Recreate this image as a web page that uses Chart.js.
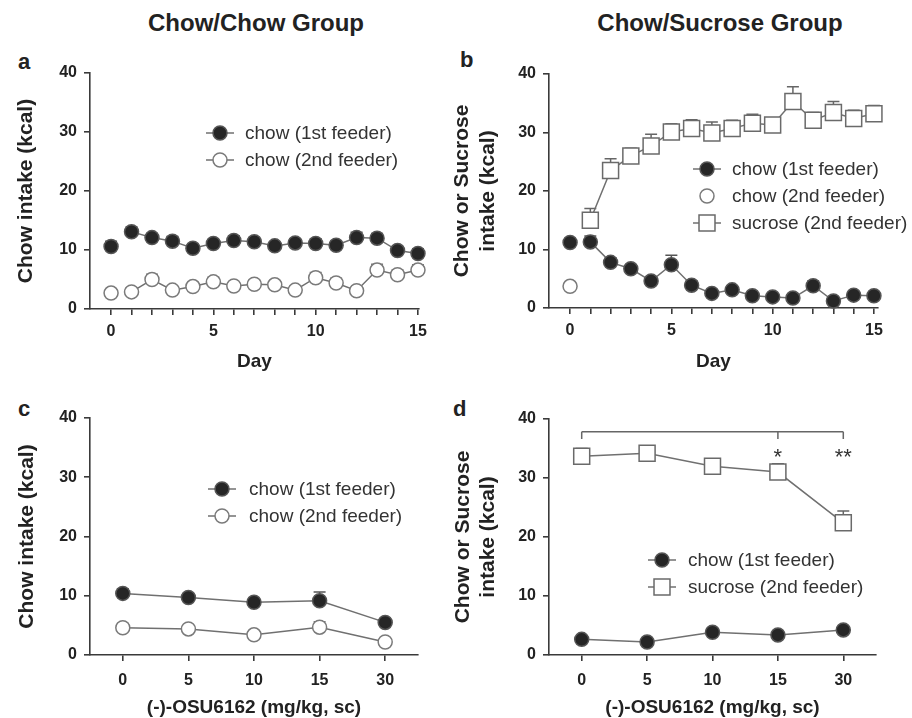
<!DOCTYPE html>
<html><head><meta charset="utf-8">
<script src="https://cdn.jsdelivr.net/npm/chart.js@4.4.1/dist/chart.umd.min.js"></script>
<style>
html,body{margin:0;padding:0;background:#fff;}
body{width:912px;height:718px;overflow:hidden;position:relative;font-family:'Liberation Sans',Arial,sans-serif;color:#222;}
.gt{position:absolute;top:11px;width:400px;text-align:center;font-weight:bold;font-size:24px;line-height:24px;}
.pl{position:absolute;font-weight:bold;font-size:22px;line-height:22px;}
canvas{position:absolute;}
</style></head><body>
<div class="gt" style="left:56px">Chow/Chow Group</div>
<div class="gt" style="left:520px">Chow/Sucrose Group</div>
<div class="pl" style="left:18px;top:51px">a</div>
<div class="pl" style="left:460px;top:49px">b</div>
<div class="pl" style="left:18px;top:398px">c</div>
<div class="pl" style="left:453px;top:398px">d</div>
<canvas id="ca" width="450" height="340" style="left:0;top:40px;width:450px;height:340px"></canvas>
<canvas id="cb" width="462" height="340" style="left:450px;top:40px;width:462px;height:340px"></canvas>
<canvas id="cc" width="450" height="340" style="left:0;top:380px;width:450px;height:340px"></canvas>
<canvas id="cd" width="462" height="340" style="left:450px;top:380px;width:462px;height:340px"></canvas>
<script>
// ---------- data ----------
const days = [0,1,2,3,4,5,6,7,8,9,10,11,12,13,14,15];
const dayTickLabels = [0,5,10,15];
const yTicks = [0,10,20,30,40];

// panel a (Chow/Chow group, days)
const chowA1 = [10.6,13.1,12.1,11.5,10.3,11.1,11.6,11.4,10.7,11.2,11.1,10.8,12.1,12.0,9.9,9.4];
const errA1  = [0.9,0.8,0.7,0.8,0.6,0.7,0.8,0.7,0.6,0.7,0.8,0.7,0.9,0.8,0.7,0.8];
const chowA2 = [2.7,2.9,5.0,3.2,3.8,4.6,3.9,4.2,4.1,3.2,5.3,4.4,3.1,6.6,5.8,6.6];
const errA2  = [0.6,0.7,0.9,0.6,0.7,0.8,0.6,0.7,0.6,0.7,0.9,0.8,0.6,1.0,0.8,0.9];

// panel b (Chow/Sucrose group, days)
const chowB1   = [11.2,11.3,7.8,6.7,4.6,7.4,3.9,2.5,3.1,2.1,1.9,1.7,3.8,1.2,2.2,2.1];
const errB1    = [0.7,1.0,0.8,0.7,0.6,1.6,0.7,0.5,0.6,0.4,0.4,0.4,0.8,0.5,0.4,0.4];
const chowB2   = [3.7,null,null,null,null,null,null,null,null,null,null,null,null,null,null,null];
const sucroseB = [null,15.0,23.5,26.0,27.7,30.1,30.7,29.9,30.7,31.6,31.3,35.3,32.1,33.4,32.4,33.2];
const errSucB  = [null,2.0,2.0,1.3,2.0,1.4,1.5,1.9,1.4,1.5,1.2,2.5,1.3,1.9,1.4,1.4];

// panels c, d (dose)
const doses = ['0','5','10','15','30'];
const chowC1 = [10.4,9.7,8.9,9.15,5.5];
const errC1  = [0.8,0.7,0.6,1.5,0.6];
const chowC2 = [4.6,4.4,3.4,4.7,2.2];
const errC2  = [0.7,0.6,0.6,0.9,0.5];
const chowD1   = [2.65,2.2,3.85,3.4,4.25];
const errD1    = [0.5,0.5,0.6,0.6,0.6];
const sucroseD = [33.7,34.2,32.0,31.0,22.4];
const errSucD  = [1.3,1.1,1.0,1.4,2.0];
const sigStars = ['','','','*','**'];
const sigBracketAt = [0,3,4];

// ---------- styles ----------
Chart.defaults.font.family = "'Liberation Sans', Arial, sans-serif";
Chart.defaults.color = '#222';
const axisColor = '#3a3a3a';
const lineColor = '#707070';
const tickFont = {size: 16, weight: 'bold'};
const filled = {pointStyle:'circle', pointRadius:7, pointBackgroundColor:'#262626', pointBorderColor:'#555', pointBorderWidth:1.5, borderColor:lineColor, borderWidth:1.5, errorColor:'#555'};
const openC  = {pointStyle:'circle', pointRadius:7, pointBackgroundColor:'#fff', pointBorderColor:'#7a7a7a', pointBorderWidth:1.5, borderColor:lineColor, borderWidth:1.5, errorColor:'#777'};
const openS  = {pointStyle:'rect', pointRadius:11.3, pointBackgroundColor:'#fff', pointBorderColor:'#6a6a6a', pointBorderWidth:1.5, borderColor:lineColor, borderWidth:1.5, errorColor:'#666'};

// ---------- plugins ----------
const errorBars = {
  id: 'errorBars',
  beforeDatasetsDraw(chart) {
    const ctx = chart.ctx;
    chart.data.datasets.forEach((ds, i) => {
      if (!ds.errors) return;
      const meta = chart.getDatasetMeta(i);
      const ys = chart.scales[meta.yAxisID];
      meta.data.forEach((pt, j) => {
        const e = ds.errors[j];
        const raw = ds.data[j];
        const v = (raw && typeof raw === 'object') ? raw.y : raw;
        if (pt.skip || v == null || !e) return;
        const y1 = ys.getPixelForValue(v + e);
        ctx.save();
        ctx.strokeStyle = ds.errorColor; ctx.lineWidth = 1.5;
        ctx.beginPath();
        ctx.moveTo(pt.x, pt.y); ctx.lineTo(pt.x, y1);
        ctx.moveTo(pt.x - 6, y1); ctx.lineTo(pt.x + 6, y1);
        ctx.stroke();
        ctx.restore();
      });
    });
  }
};

const boxLegend = {
  id: 'boxLegend',
  afterDraw(chart, args, o) {
    const ctx = chart.ctx;
    chart.data.datasets.forEach((ds, i) => {
      const y = o.y + i * o.gap;
      ctx.save();
      if (ds.showLine !== false) {
        ctx.strokeStyle = ds.borderColor; ctx.lineWidth = ds.borderWidth;
        ctx.beginPath(); ctx.moveTo(o.x - 14, y); ctx.lineTo(o.x + 14, y); ctx.stroke();
      }
      ctx.fillStyle = ds.pointBackgroundColor;
      ctx.strokeStyle = ds.pointBorderColor;
      ctx.lineWidth = ds.pointBorderWidth;
      Chart.helpers.drawPoint(ctx, {pointStyle: ds.pointStyle, rotation: 0, radius: ds.pointRadius, borderWidth: ds.pointBorderWidth}, o.x, y);
      ctx.fillStyle = '#333';
      ctx.font = "19px 'Liberation Sans', Arial, sans-serif";
      ctx.textBaseline = 'middle'; ctx.textAlign = 'left';
      ctx.fillText(ds.label, o.textX, y + 1);
      ctx.restore();
    });
  }
};

const sigMarks = {
  id: 'sigMarks',
  afterDatasetsDraw(chart, args, o) {
    if (!o || o.level == null) return;
    const ctx = chart.ctx, xs = chart.scales.x, ys = chart.scales.y;
    const yTop = ys.getPixelForValue(o.level), yBot = ys.getPixelForValue(o.level - o.drop);
    const px = o.at.map(k => xs.getPixelForValue(k));
    ctx.save();
    ctx.strokeStyle = '#666'; ctx.lineWidth = 1.5;
    ctx.beginPath();
    ctx.moveTo(px[0], yTop); ctx.lineTo(px[px.length - 1], yTop);
    px.forEach(x => { ctx.moveTo(x, yTop); ctx.lineTo(x, yBot); });
    ctx.stroke();
    ctx.fillStyle = '#333';
    ctx.font = "22px 'Liberation Sans', Arial, sans-serif";
    ctx.textAlign = 'center'; ctx.textBaseline = 'alphabetic';
    o.stars.forEach((s, k) => { if (s) ctx.fillText(s, xs.getPixelForValue(k), ys.getPixelForValue(o.starBase)); });
    ctx.restore();
  }
};

// ---------- builders ----------
function yAxis(text, padTop, width) {
  return {
    position: 'left', min: 0, max: 40,
    afterBuildTicks: s => { s.ticks = yTicks.map(v => ({value: v})); },
    ticks: {padding: 7, font: tickFont, color: '#222'},
    grid: {display: true, drawOnChartArea: false, drawTicks: true, tickLength: 6, color: axisColor, lineWidth: 1.6},
    border: {display: true, color: axisColor, width: 1.6},
    title: {display: true, text: text, font: {size: 21, weight: 'bold'}, color: '#222', padding: {top: padTop, bottom: 0}},
    afterFit: s => { s.width = width; }
  };
}
function xTitle(text, padBottom) {
  return {display: true, text: text, font: {size: 19, weight: 'bold'}, color: '#222', padding: {top: 0, bottom: padBottom}};
}
const xGrid = {display: true, drawOnChartArea: false, drawTicks: true, tickLength: 6, color: axisColor, lineWidth: 1.6};
const xBorder = {display: true, color: axisColor, width: 1.6};

function dayAxis(min, max, height, padTitle) {
  return {
    type: 'linear', position: 'bottom', min: min, max: max,
    afterBuildTicks: s => { s.ticks = days.map(v => ({value: v})); },
    ticks: {autoSkip: false, maxRotation: 0, padding: 7, font: tickFont, color: '#222',
            callback: v => dayTickLabels.includes(v) ? String(v) : ''},
    grid: xGrid, border: xBorder,
    title: xTitle('Day', padTitle),
    afterFit: s => { s.height = height; }
  };
}
function doseAxis(height, padTitle) {
  return {
    type: 'category', position: 'bottom', offset: true,
    ticks: {autoSkip: false, maxRotation: 0, padding: 10, font: tickFont, color: '#222'},
    grid: Object.assign({offset: false}, xGrid), border: xBorder,
    title: xTitle('(-)-OSU6162 (mg/kg, sc)', padTitle),
    afterFit: s => { s.height = height; }
  };
}
const pts = (arr) => days.map((d, i) => ({x: d, y: arr[i]}));
const noFirstSeg = {borderColor: c => c.p0.parsed.x === 0 ? 'rgba(0,0,0,0)' : lineColor};

function base(padding) {
  return {responsive: false, animation: false, events: [], layout: {padding: padding}};
}

// ---------- panel a ----------
new Chart(document.getElementById('ca'), {
  type: 'scatter',
  data: {datasets: [
    Object.assign({label: 'chow (1st feeder)', data: pts(chowA1), errors: errA1, showLine: true, clip: false, segment: noFirstSeg}, filled),
    Object.assign({label: 'chow (2nd feeder)', data: pts(chowA2), errors: errA2, showLine: true, clip: false, segment: noFirstSeg}, openC)
  ]},
  options: Object.assign(base({left: 0, top: 33, right: 31, bottom: 0}), {
    scales: {x: dayAxis(-1.03, 15.05, 71, 6.6), y: yAxis('Chow intake (kcal)', 13.4, 90)},
    plugins: {legend: {display: false}, tooltip: {enabled: false}, boxLegend: {x: 220, textX: 245, y: 93, gap: 27}}
  }),
  plugins: [errorBars, boxLegend]
});

// ---------- panel b ----------
new Chart(document.getElementById('cb'), {
  type: 'scatter',
  data: {datasets: [
    Object.assign({label: 'chow (1st feeder)', data: pts(chowB1), errors: errB1, showLine: true, clip: false, segment: noFirstSeg}, filled),
    Object.assign({label: 'chow (2nd feeder)', data: pts(chowB2), showLine: false, clip: false}, openC),
    Object.assign({label: 'sucrose (2nd feeder)', data: pts(sucroseB), errors: errSucB, showLine: true, clip: false}, openS)
  ]},
  options: Object.assign(base({left: 0, top: 34, right: 34, bottom: 0}), {
    scales: {x: dayAxis(-1.04, 15.2, 72, 6.6), y: yAxis(['Chow or Sucrose', 'intake (kcal)'], 0, 99)},
    plugins: {legend: {display: false}, tooltip: {enabled: false}, boxLegend: {x: 257, textX: 282, y: 129, gap: 27}}
  }),
  plugins: [errorBars, boxLegend]
});

// ---------- panel c ----------
new Chart(document.getElementById('cc'), {
  type: 'line',
  data: {labels: doses, datasets: [
    Object.assign({label: 'chow (1st feeder)', data: chowC1, errors: errC1, clip: false}, filled),
    Object.assign({label: 'chow (2nd feeder)', data: chowC2, errors: errC2, clip: false}, openC)
  ]},
  options: Object.assign(base({left: 0, top: 38, right: 32, bottom: 0}), {
    scales: {x: doseAxis(65, 0.6), y: yAxis('Chow intake (kcal)', 14.4, 90)},
    plugins: {legend: {display: false}, tooltip: {enabled: false}, boxLegend: {x: 222, textX: 249, y: 109, gap: 27}}
  }),
  plugins: [errorBars, boxLegend]
});

// ---------- panel d ----------
new Chart(document.getElementById('cd'), {
  type: 'line',
  data: {labels: doses, datasets: [
    Object.assign({label: 'chow (1st feeder)', data: chowD1, errors: errD1, clip: false}, filled),
    Object.assign({label: 'sucrose (2nd feeder)', data: sucroseD, errors: errSucD, clip: false}, openS)
  ]},
  options: Object.assign(base({left: 0, top: 39, right: 36, bottom: 0}), {
    scales: {x: doseAxis(65, 0.6), y: yAxis(['Chow or Sucrose', 'intake (kcal)'], 0.4, 99)},
    plugins: {legend: {display: false}, tooltip: {enabled: false},
      boxLegend: {x: 212, textX: 238, y: 180, gap: 27},
      sigMarks: {level: 37.85, drop: 1.25, at: sigBracketAt, stars: sigStars, starBase: 32.4}}
  }),
  plugins: [errorBars, boxLegend, sigMarks]
});
</script>
</body></html>
